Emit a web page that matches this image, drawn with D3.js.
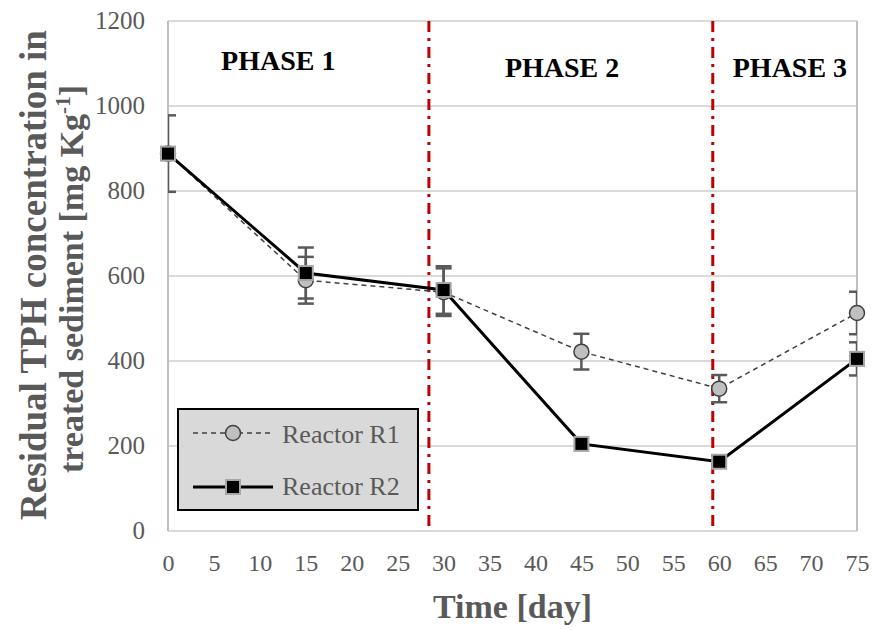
<!doctype html>
<html>
<head>
<meta charset="utf-8"/>
<style>
body{margin:0;background:#fff;}
</style>
<script src="https://cdn.jsdelivr.net/npm/d3@7"></script>
</head>
<body>
<script>
// data
var days = [0, 15, 30, 45, 60, 75];
var r1 = [888, 590, 562, 422, 335, 513];
var r1Err = [0, 55, 56, 42, 32, 50];
var r2 = [888, 607, 567, 205, 163, 405];
var r2Err = [90, 60, 56, 0, 0, 39];
var xTicks = d3.range(0, 76, 5);
var yTicks = [0, 200, 400, 600, 800, 1000, 1200];
var phaseBreaks = [28.4, 59.3];
var phaseNames = ["PHASE 1", "PHASE 2", "PHASE 3"];
var phaseAt = [12.0, 42.9, 67.7];

var W = 872, H = 630;
var m = {left:168, right:15, top:21, bottom:99};
var serif = "'Liberation Serif', 'Times New Roman', serif";
var grey = "#595959";

var svg = d3.select("body").append("svg")
  .attr("width", W).attr("height", H);

var x = d3.scaleLinear().domain([0, 75]).range([m.left, W - m.right]);
var y = d3.scaleLinear().domain([0, 1200]).range([H - m.bottom, m.top]);

// gridlines
svg.append("g").selectAll("line").data(yTicks).enter().append("line")
  .attr("x1", x(0)).attr("x2", x(75))
  .attr("y1", function(d){ return y(d); }).attr("y2", function(d){ return y(d); })
  .attr("stroke", "#d9d9d9").attr("stroke-width", 2);

// plot frame sides
svg.append("line").attr("x1", x(0)).attr("x2", x(0)).attr("y1", y(0)).attr("y2", y(1200))
  .attr("stroke", "#bfbfbf").attr("stroke-width", 2);
svg.append("line").attr("x1", x(75)).attr("x2", x(75)).attr("y1", y(0)).attr("y2", y(1200))
  .attr("stroke", "#bfbfbf").attr("stroke-width", 2);

// axes
var xAxis = svg.append("g").attr("transform", "translate(0," + (y(0) + 32) + ")")
  .call(d3.axisBottom(x).tickValues(xTicks).tickSize(0).tickPadding(0));
xAxis.select(".domain").remove();
xAxis.selectAll("text").attr("font-family", serif).attr("font-size", 24)
  .attr("fill", grey).attr("dy", "0.34em");

var yAxis = svg.append("g").attr("transform", "translate(" + (x(0) - 23) + ",0)")
  .call(d3.axisLeft(y).tickValues(yTicks).tickFormat(d3.format("d")).tickSize(0).tickPadding(0));
yAxis.select(".domain").remove();
yAxis.selectAll("text").attr("font-family", serif).attr("font-size", 25)
  .attr("fill", grey).attr("dy", "0.28em");

// phase separators
svg.append("g").selectAll("line").data(phaseBreaks).enter().append("line")
  .attr("x1", function(d){ return x(d); }).attr("x2", function(d){ return x(d); })
  .attr("y1", y(1200)).attr("y2", y(0))
  .attr("stroke", "#c00000").attr("stroke-width", 3)
  .attr("stroke-dasharray", "11,6,3,6");

// phase labels
svg.append("g").selectAll("text").data(phaseNames).enter().append("text")
  .attr("x", function(d, i){ return x(phaseAt[i]); })
  .attr("y", function(d, i){ return i == 0 ? 70 : 77; })
  .attr("text-anchor", "middle").attr("font-family", serif)
  .attr("font-size", 28).attr("font-weight", "bold")
  .attr("fill", "#000").text(function(d){ return d; });

svg.append("clipPath").attr("id", "clip").append("rect")
  .attr("x", x(0)).attr("y", 0).attr("width", x(75) - x(0)).attr("height", H);

var line = d3.line().x(function(d){ return x(d[0]); }).y(function(d){ return y(d[1]); });

// error bars
function errBars(vals, errs) {
  var g = svg.append("g").attr("clip-path", "url(#clip)")
    .attr("stroke", grey).attr("stroke-width", 2.5);
  days.forEach(function(d, i){
    if (!errs[i]) return;
    var cx = x(d), y1 = y(vals[i] + errs[i]), y2 = y(vals[i] - errs[i]);
    g.append("line").attr("x1", cx).attr("x2", cx).attr("y1", y1).attr("y2", y2);
    g.append("line").attr("x1", cx - 8).attr("x2", cx + 8).attr("y1", y1).attr("y2", y1);
    g.append("line").attr("x1", cx - 8).attr("x2", cx + 8).attr("y1", y2).attr("y2", y2);
  });
}
errBars(r1, r1Err);
errBars(r2, r2Err);

// R1 line
svg.append("path").datum(d3.zip(days, r1)).attr("d", line)
  .attr("fill", "none").attr("stroke", "#404040").attr("stroke-width", 1.5)
  .attr("stroke-dasharray", "5,4");
svg.append("g").selectAll("circle").data(d3.zip(days, r1)).enter().append("circle")
  .attr("cx", function(d){ return x(d[0]); }).attr("cy", function(d){ return y(d[1]); })
  .attr("r", 7.5).attr("fill", "#bfbfbf").attr("stroke", "#404040").attr("stroke-width", 1.5);

// R2 line
svg.append("path").datum(d3.zip(days, r2)).attr("d", line)
  .attr("fill", "none").attr("stroke", "#000").attr("stroke-width", 3);
svg.append("g").selectAll("rect").data(d3.zip(days, r2)).enter().append("rect")
  .attr("x", function(d){ return x(d[0]) - 7; }).attr("y", function(d){ return y(d[1]) - 7; })
  .attr("width", 14).attr("height", 14)
  .attr("fill", "#000").attr("stroke", "#a6a6a6").attr("stroke-width", 2);

// legend
var lg = svg.append("g").attr("transform", "translate(178,409)");
lg.append("rect").attr("width", 240).attr("height", 101)
  .attr("fill", "#d9d9d9").attr("stroke", "#000").attr("stroke-width", 2);
lg.append("line").attr("x1", 15).attr("x2", 95).attr("y1", 24).attr("y2", 24)
  .attr("stroke", "#404040").attr("stroke-width", 1.5).attr("stroke-dasharray", "5,4");
lg.append("circle").attr("cx", 55).attr("cy", 24).attr("r", 7.5)
  .attr("fill", "#bfbfbf").attr("stroke", "#404040").attr("stroke-width", 1.5);
lg.append("text").attr("x", 104).attr("y", 34).attr("font-family", serif)
  .attr("font-size", 26).attr("fill", grey).text("Reactor R1");
lg.append("line").attr("x1", 15).attr("x2", 95).attr("y1", 78).attr("y2", 78)
  .attr("stroke", "#000").attr("stroke-width", 3);
lg.append("rect").attr("x", 48).attr("y", 71).attr("width", 14).attr("height", 14)
  .attr("fill", "#000").attr("stroke", "#a6a6a6").attr("stroke-width", 2);
lg.append("text").attr("x", 104).attr("y", 86).attr("font-family", serif)
  .attr("font-size", 26).attr("fill", grey).text("Reactor R2");

// axis titles
svg.append("text").attr("x", x(37.5)).attr("y", 618).attr("text-anchor", "middle")
  .attr("font-family", serif).attr("font-size", 34).attr("font-weight", "bold")
  .attr("fill", grey).text("Time [day]");

// y title: two lines, each sized to its length in the reference
function yLine(cy, baseX, target, parts) {
  var t = svg.append("text").attr("transform", "translate(" + baseX + "," + cy + ") rotate(-90)")
    .attr("text-anchor", "middle").attr("font-family", serif)
    .attr("font-size", 34).attr("font-weight", "bold").attr("fill", grey);
  parts(t);
  var len = t.node().getComputedTextLength();
  var fs = 34 * target / len;
  t.attr("font-size", fs);
  t.selectAll("tspan.sup").attr("font-size", fs * 0.62).attr("dy", -fs * 0.38);
  t.selectAll("tspan.back").attr("dy", fs * 0.38);
}
yLine(275, 46, 490, function(t){ t.text("Residual TPH concentration in"); });
yLine(279, 83, 388, function(t){
  t.append("tspan").text("treated sediment [mg Kg");
  t.append("tspan").attr("class", "sup").attr("font-size", 21).attr("dy", -13).text("-1");
  t.append("tspan").attr("class", "back").attr("dy", 13).text("]");
});
</script>
</body>
</html>
